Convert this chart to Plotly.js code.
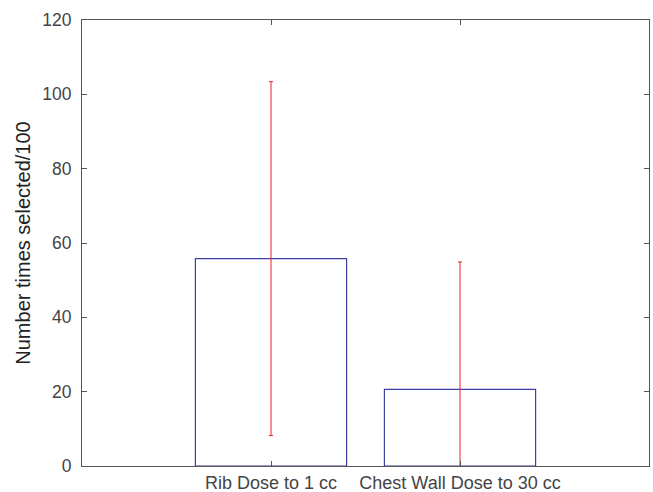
<!DOCTYPE html>
<html>
<head>
<meta charset="utf-8">
<script src="https://cdn.plot.ly/plotly-3.0.1.min.js"></script>
<style>html,body{margin:0;padding:0;background:#fff;}#chart{width:653px;height:492px;}</style>
</head>
<body>
<div id="chart"></div>
<script>
var categories = ["Rib Dose to 1 cc", "Chest Wall Dose to 30 cc"];
var positions = [1, 2];
var meanValues = [55.8, 20.6];
var errorValues = [47.6, 34.3];
var yTicks = [0, 20, 40, 60, 80, 100, 120];

var trace = {
  type: 'bar',
  x: positions,
  y: meanValues,
  width: 0.8,
  marker: {color: 'rgba(255,255,255,0)', line: {color: '#3b3f9e', width: 1.2}},
  error_y: {type: 'data', array: errorValues, visible: true, color: '#ee1c25', thickness: 1, width: 2},
  hoverinfo: 'none'
};

var axisColor = '#555555';
var layout = {
  width: 653, height: 492,
  margin: {l: 82, r: 4, t: 20, b: 26},
  paper_bgcolor: '#ffffff', plot_bgcolor: '#ffffff',
  showlegend: false,
  font: {family: 'Liberation Sans, Arial, sans-serif', size: 17, color: '#444444'},
  xaxis: {
    range: [0, 3], tickmode: 'array', tickvals: positions, ticktext: categories,
    ticks: 'inside', ticklen: 5, tickcolor: axisColor, showline: true, linecolor: axisColor,
    linewidth: 1, mirror: 'ticks', showgrid: false, zeroline: false, fixedrange: true,
    automargin: false, ticklabelstandoff: 0,
    tickfont: {size: 18, color: '#444444'}
  },
  yaxis: {
    range: [0, 120], tickmode: 'array', tickvals: yTicks,
    ticks: 'inside', ticklen: 5, tickcolor: axisColor, showline: true, linecolor: axisColor,
    linewidth: 1, mirror: 'ticks', showgrid: false, zeroline: false, fixedrange: true,
    automargin: false,
    tickfont: {size: 17.5, color: '#444444'}, ticklabelstandoff: 6,
    title: {text: 'Number times selected/100', font: {size: 20, color: '#222222'}, standoff: 6}
  }
};

Plotly.newPlot('chart', [trace], layout, {staticPlot: true, displayModeBar: false});
</script>
</body>
</html>
